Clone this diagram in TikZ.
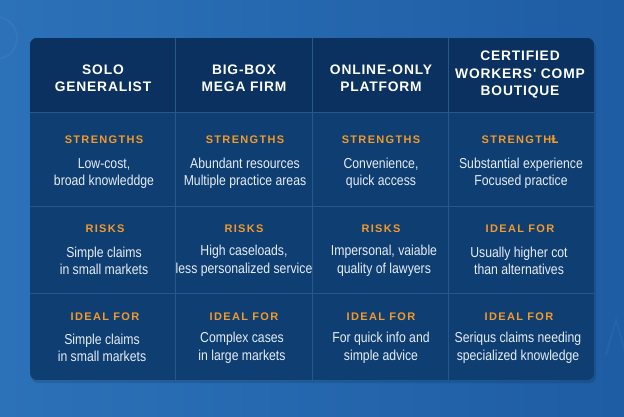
\documentclass[tikz,border=0pt]{standalone}
\usepackage{fontspec}
\setmainfont{Liberation Sans}
\newfontfamily\hdfont[LetterSpace=6]{Liberation Sans}
\newfontfamily\lbfont[LetterSpace=12]{Liberation Sans}
\newfontfamily\bdfont[FakeStretch=0.85]{Liberation Sans}
\newfontfamily\dvfont{DejaVu Sans}
\definecolor{bgl}{HTML}{2C72B8}
\definecolor{bgr}{HTML}{1E5CA3}
\definecolor{tbody}{HTML}{0E3E72}
\definecolor{thead}{HTML}{0A3160}
\definecolor{tline}{HTML}{26588C}
\definecolor{orng}{HTML}{F39A2B}
\definecolor{txt}{HTML}{E6EDF5}
\begin{document}
\begin{tikzpicture}[x=1pt,y=-1pt,
  head/.style={text=white,font=\hdfont\bfseries\fontsize{13.8}{17.5}\selectfont,align=center,inner sep=0pt},
  lab/.style={text=orng,font=\lbfont\bfseries\fontsize{11}{13}\selectfont,inner sep=0pt},
  body/.style={text=txt,font=\bdfont\fontsize{14.4}{17.5}\selectfont,align=center,inner sep=0pt},
  grid/.style={draw=tline,line width=0.9pt},
  deco/.style={draw=white,draw opacity=0.04,line width=2pt}]
\useasboundingbox (0,0) rectangle (624,416);
\shade[left color=bgl,right color=bgr] (0,0) rectangle (624,416);
% faint decorations
\draw[deco] (-4,38) circle (21);
\draw[deco] (606,355) -- (616,320) -- (626,355);
% shadow
\fill[black,opacity=0.12,rounded corners=7pt] (31,41) rectangle (596,383);
% table
\begin{scope}
\clip[rounded corners=7pt] (30,38) rectangle (594,380);
\fill[tbody] (30,38) rectangle (594,380);
\fill[thead] (30,38) rectangle (594,112);
\draw[grid] (175,38) -- (175,380);
\draw[grid] (312,38) -- (312,380);
\draw[grid] (448,38) -- (448,380);
\draw[grid] (30,112) -- (594,112);
\draw[grid] (30,206) -- (594,206);
\draw[grid] (30,293) -- (594,293);
\end{scope}
% headers
\node[head] (h1) at (103,78) {SOLO\\GENERALIST};
\node[head] (h2) at (244,78) {BIG-BOX\\MEGA FIRM};
\node[head] (h3) at (381,78) {ONLINE-ONLY\\PLATFORM};
\node[head] (h4) at (520,75) {CERTIFIED\\WORKERS' COMP\\BOUTIQUE};
% row 2
\node[lab] (l21) at (104,140) {STRENGTHS};
\node[lab] (l22) at (245,140) {STRENGTHS};
\node[lab] (l23) at (381,140) {STRENGTHS};
\node[lab] (l24) at (520,140) {STRENGTH{\dvfont\bfseries Ɫ}};
\node[body] (b21) at (104,173.5) {Low-cost,\\broad knowleddge};
\node[body] (b22) at (245,173.5) {Abundant resources\\Multiple practice areas};
\node[body] (b23) at (381,173.5) {Convenience,\\quick access};
\node[body] (b24) at (521,173.5) {Substantial experience\\Focused practice};
% row 3
\node[lab] (l31) at (105,229) {RISKS};
\node[lab] (l32) at (244,229) {RISKS};
\node[lab] (l33) at (381,229) {RISKS};
\node[lab] (l34) at (520,229) {IDEAL FOR};
\node[body] (b31) at (104,261) {Simple claims\\in small markets};
\node[body] (b32) at (244,261) {High caseloads,\\less personalized service};
\node[body] (b33) at (384,261) {Impersonal, vaiable\\quality of lawyers};
\node[body] (b34) at (519,261) {Usually higher cot\\than alternatives};
% row 4
\node[lab] (l41) at (105,317) {IDEAL FOR};
\node[lab] (l42) at (244,317) {IDEAL FOR};
\node[lab] (l43) at (381,317) {IDEAL FOR};
\node[lab] (l44) at (519,317) {IDEAL FOR};
\node[body] (b41) at (102,348) {Simple claims\\in small markets};
\node[body] (b42) at (242,348) {Complex cases\\in large markets};
\node[body] (b43) at (381,348) {For quick info and\\simple advice};
\node[body] (b44) at (518,348) {Seriqus claims needing\\specialized knowledge};
\end{tikzpicture}
\end{document}
